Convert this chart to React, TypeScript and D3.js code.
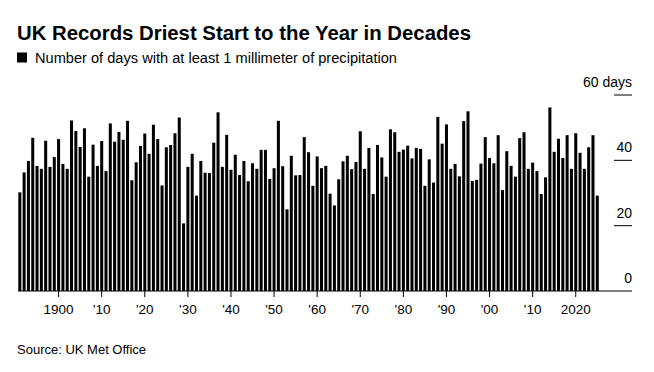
import React from "react";
import * as d3 from "d3";

const title = "UK Records Driest Start to the Year in Decades";
const subtitle = "Number of days with at least 1 millimeter of precipitation";
const source = "Source: UK Met Office";

const startYear = 1891;
const days: number[] = [
  30.2, 36.3, 39.8, 46.9, 38.3, 37.4, 46.0, 38.0, 41.0, 46.5,
  38.9, 37.4, 52.2, 49.0, 44.1, 49.8, 35.0, 44.8, 38.3, 45.9,
  36.7, 51.3, 45.7, 48.7, 46.3, 52.1, 33.9, 39.4, 44.4, 48.2,
  42.0, 50.9, 46.5, 32.3, 44.0, 44.7, 48.3, 53.1, 20.7, 38.0,
  42.0, 29.2, 39.8, 36.2, 36.1, 45.4, 54.7, 38.0, 47.8, 37.1,
  41.7, 35.5, 39.8, 33.6, 39.1, 37.4, 43.2, 43.2, 34.3, 37.6,
  52.1, 38.2, 25.0, 41.4, 35.4, 35.5, 47.1, 42.5, 32.2, 41.2,
  37.6, 38.3, 29.8, 26.2, 34.2, 39.7, 41.4, 37.3, 39.5, 48.9,
  37.4, 43.8, 29.7, 44.7, 40.9, 35.0, 49.5, 48.6, 42.6, 43.3,
  44.5, 40.6, 43.8, 43.5, 32.2, 40.3, 33.2, 53.3, 45.1, 51.0,
  37.4, 38.9, 35.1, 52.0, 55.0, 33.7, 34.0, 39.0, 47.1, 40.7,
  39.1, 47.7, 30.9, 42.8, 38.3, 35.0, 46.8, 48.6, 37.4, 39.3,
  36.7, 29.7, 34.8, 56.2, 42.6, 46.6, 40.7, 47.7, 37.4, 48.3,
  42.3, 37.4, 44.0, 47.7, 29.2,
];
const years: number[] = days.map((_, i) => startYear + i);

const xTickYears = [1900, 1910, 1920, 1930, 1940, 1950, 1960, 1970, 1980, 1990, 2000, 2010, 2020];
const xTickLabels = ["1900", "'10", "'20", "'30", "'40", "'50", "'60", "'70", "'80", "'90", "'00", "'10", "2020"];
const yTicks = [0, 20, 40, 60];
const yTickLabels = ["0", "20", "40", "60 days"];

const FONT = "'Liberation Sans', Arial, Helvetica, sans-serif";

export default function App() {
  const W = 654;
  const H = 372;
  const x = d3
    .scaleBand<number>()
    .domain(years)
    .range([18.3, 598.8])
    .paddingInner(0.3)
    .paddingOuter(0);
  const y = d3.scaleLinear().domain([0, 60]).range([291, 95]);
  const bw = x.bandwidth();

  return (
    <svg
      width={W}
      height={H}
      style={{ position: "absolute", left: 0, top: 0, background: "#fff" }}
      fontFamily={FONT}
    >
      <rect x={0} y={0} width={W} height={H} fill="#fff" />
      <text x={17} y={39.5} fontSize={20} fontWeight="bold" fill="#000" textLength={454} lengthAdjust="spacingAndGlyphs">
        {title}
      </text>
      <rect x={17} y={52.5} width={10} height={10} fill="#000" />
      <text x={35} y={62.5} fontSize={14} fill="#000" textLength={362} lengthAdjust="spacingAndGlyphs">
        {subtitle}
      </text>

      {days.map((d, i) => (
        <rect
          key={years[i]}
          x={x(years[i])}
          y={y(d)}
          width={bw}
          height={y(0) - y(d)}
          fill="#000"
        />
      ))}

      {yTicks.map((t, i) => (
        <g key={t}>
          {t !== 0 && <line x1={614} x2={632} y1={y(t)} y2={y(t)} stroke="#000" strokeWidth={1} />}
          <text x={632} y={y(t) - 8} fontSize={14} textAnchor="end" fill="#000">
            {yTickLabels[i]}
          </text>
        </g>
      ))}

      <line x1={18} x2={632} y1={y(0)} y2={y(0)} stroke="#000" strokeWidth={1} />

      {xTickYears.map((yr, i) => {
        const cx = (x(yr) as number) + bw / 2;
        return (
          <g key={yr}>
            <line x1={cx} x2={cx} y1={y(0)} y2={y(0) + 6} stroke="#000" strokeWidth={1} />
            <text x={cx} y={314} fontSize={13.5} textAnchor="middle" fill="#000">
              {xTickLabels[i]}
            </text>
          </g>
        );
      })}

      <text x={17} y={354} fontSize={13} fill="#000">
        {source}
      </text>
    </svg>
  );
}
